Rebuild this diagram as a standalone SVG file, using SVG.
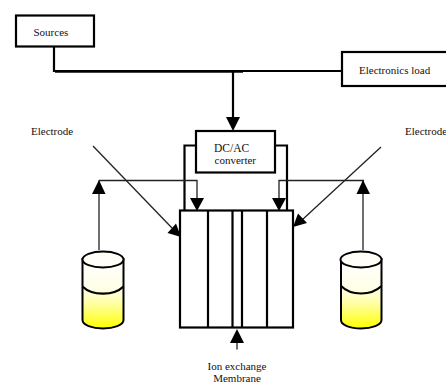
<svg xmlns="http://www.w3.org/2000/svg" width="446" height="382" viewBox="0 0 446 382">
<style>
text{font-family:"Liberation Serif","Times New Roman",serif;font-size:11px;fill:#111}
.box{fill:#fff;stroke:#000;stroke-width:2.2}
.w{fill:none;stroke:#000;stroke-width:2.2}
.t{fill:none;stroke:#222;stroke-width:1.3}
.h{fill:#000;stroke:none}
.can{fill:url(#g);stroke:#000;stroke-width:2}
.top{fill:#fffff8;stroke:#000;stroke-width:2}
</style>
<defs>
<linearGradient id="g" x1="0" y1="0" x2="0" y2="1"><stop offset="0" stop-color="#fff"/><stop offset="0.42" stop-color="#ffffe8"/><stop offset="0.65" stop-color="#ffffa0"/><stop offset="1" stop-color="#ffff00"/></linearGradient>
</defs>
<rect width="446" height="382" fill="#fff"/>
<g id="connectors">
<path class="w" d="M54 46V71H342"/>
<path fill="none" stroke="#444" stroke-width="1.2" d="M55 72.500H243"/>
<path class="w" d="M233 71V120"/>
<path class="h" d="M226 117H240L233 131Z"/>
<path class="w" d="M195 145.500H184.500V210"/>
<path class="w" d="M275 145.500H287V210"/>
<path class="t" d="M99 180.500H197V201"/>
<path class="t" d="M99 180.500V250"/>
<path class="h" d="M92 194H105.500L99 180Z"/>
<path class="h" d="M190 198H204L197 211Z"/>
<path class="t" d="M364 180.500H279V201"/>
<path class="t" d="M363 180.500V250"/>
<path class="h" d="M356.500 194H370L363 180Z"/>
<path class="h" d="M272 198H286L279 211Z"/>
<path class="t" d="M93 146L172 228"/>
<path class="h" d="M181 237L167.500 233L176 223.500Z"/>
<path class="t" d="M381 147L302 220"/>
<path class="h" d="M293 227L298 213.500L307 223Z"/>
<path class="t" d="M237 349.500V335"/>
<path class="h" d="M237 329L244 343H230Z"/>
</g>
<g id="sources"><rect class="box" x="16" y="15.500" width="78" height="31"/><text x="33.500" y="36">Sources</text></g>
<g id="load"><rect class="box" x="342" y="52" width="106" height="34"/><text x="359" y="73.500">Electronics load</text></g>
<g id="converter"><rect class="box" x="196" y="131" width="79" height="41.500"/><text x="214" y="151.500" style="font-size:11.500px">DC/AC</text><text x="214.500" y="163.500">converter</text></g>
<g id="stack">
<rect class="box" x="180" y="210.500" width="113" height="117"/>
<path class="w" d="M208 210.500V327.500M232.500 210.500V327.500M242 210.500V327.500M267 210.500V327.500"/>
</g>
<g id="tank-left">
<path class="can" d="M82.500 259V320C82.500 325 92 328.500 103 328.500S123.500 325 123.500 320V259Z"/>
<ellipse class="top" cx="103" cy="259.500" rx="20.500" ry="8"/>
<path class="w" d="M82.500 286.500C92 296 114 296 123.500 286.500"/>
</g>
<g id="tank-right">
<path class="can" d="M341 259V320C341 325 350 328.500 361 328.500S381.500 325 381.500 320V259Z"/>
<ellipse class="top" cx="361" cy="259.500" rx="20.500" ry="8"/>
<path class="w" d="M341 286C351 296 371 296 381.500 286"/>
</g>
<g id="label-electrode-left"><text x="31" y="135">Electrode</text></g>
<g id="label-electrode-right"><text x="405" y="135">Electrode</text></g>
<g id="label-membrane"><text x="237" y="370" text-anchor="middle">Ion exchange</text><text x="237" y="381.500" text-anchor="middle">Membrane</text></g>
</svg>
